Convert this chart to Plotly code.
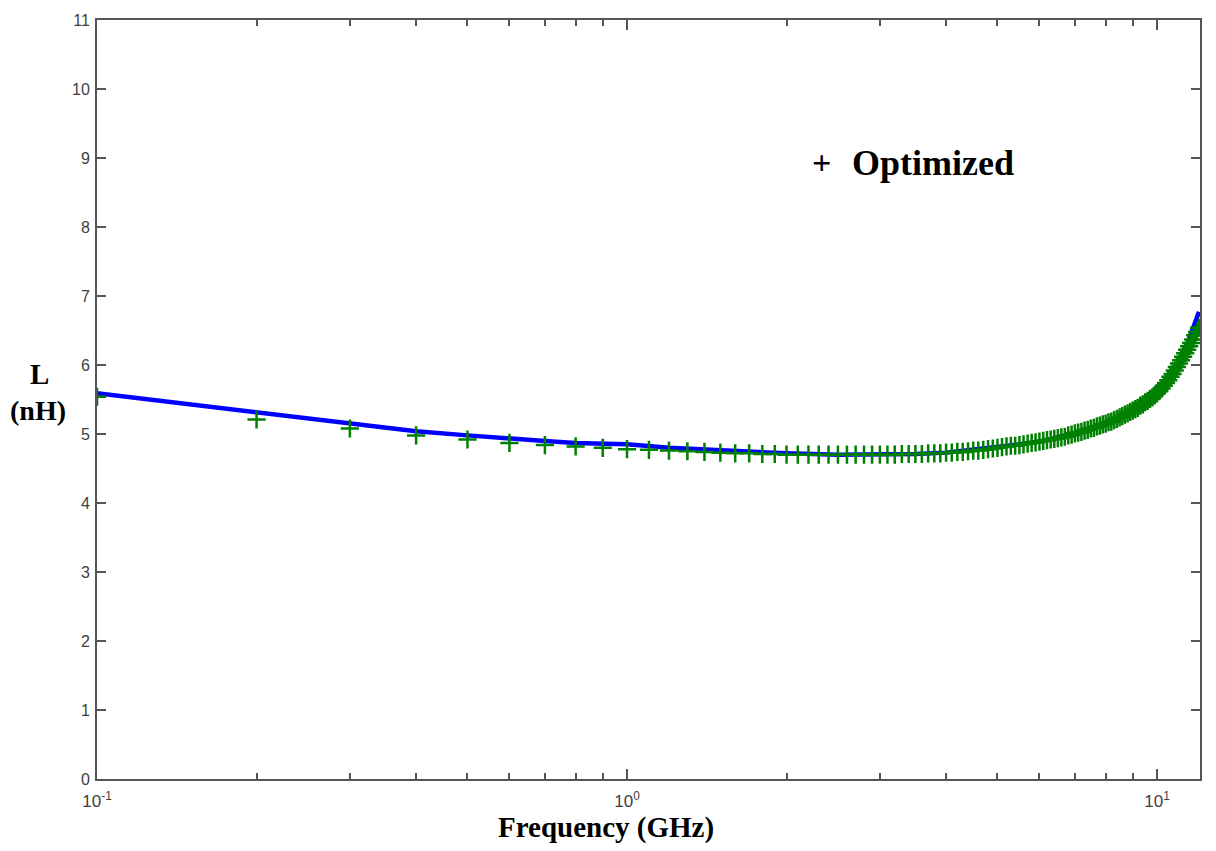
import plotly.graph_objects as go

# Optimized (markers) – sampled every 0.1 GHz
freq_opt = [0.1, 0.2, 0.3, 0.4, 0.5, 0.6, 0.7, 0.8, 0.9, 1.0,
            1.1, 1.2, 1.3, 1.4, 1.5, 1.6, 1.7, 1.8, 1.9, 2.0,
            2.1, 2.2, 2.3, 2.4, 2.5, 2.6, 2.7, 2.8, 2.9, 3.0,
            3.1, 3.2, 3.3, 3.4, 3.5, 3.6, 3.7, 3.8, 3.9, 4.0,
            4.1, 4.2, 4.3, 4.4, 4.5, 4.6, 4.7, 4.8, 4.9, 5.0,
            5.1, 5.2, 5.3, 5.4, 5.5, 5.6, 5.7, 5.8, 5.9, 6.0,
            6.1, 6.2, 6.3, 6.4, 6.5, 6.6, 6.7, 6.8, 6.9, 7.0,
            7.1, 7.2, 7.3, 7.4, 7.5, 7.6, 7.7, 7.8, 7.9, 8.0,
            8.1, 8.2, 8.3, 8.4, 8.5, 8.6, 8.7, 8.8, 8.9, 9.0,
            9.1, 9.2, 9.3, 9.4, 9.5, 9.6, 9.7, 9.8, 9.9, 10.0,
            10.1, 10.2, 10.3, 10.4, 10.5, 10.6, 10.7, 10.8, 10.9, 11.0,
            11.1, 11.2, 11.3, 11.4, 11.5, 11.6, 11.7, 11.8, 11.9, 12.0]
L_opt = [5.54, 5.21, 5.08, 4.98, 4.92, 4.87, 4.84, 4.82, 4.80, 4.78,
         4.77, 4.76, 4.75, 4.74, 4.73, 4.72, 4.72, 4.71, 4.71, 4.70,
         4.70, 4.70, 4.70, 4.70, 4.70, 4.70, 4.70, 4.70, 4.70, 4.70,
         4.70, 4.70, 4.71, 4.71, 4.71, 4.71, 4.72, 4.72, 4.72, 4.73,
         4.73, 4.74, 4.74, 4.75, 4.76, 4.76, 4.77, 4.78, 4.79, 4.80,
         4.81, 4.82, 4.83, 4.83, 4.84, 4.85, 4.86, 4.87, 4.88, 4.89,
         4.90, 4.91, 4.92, 4.93, 4.94, 4.95, 4.96, 4.98, 4.99, 5.01,
         5.02, 5.03, 5.05, 5.06, 5.08, 5.09, 5.11, 5.12, 5.14, 5.15,
         5.17, 5.18, 5.20, 5.22, 5.24, 5.26, 5.28, 5.30, 5.32, 5.34,
         5.36, 5.38, 5.41, 5.43, 5.46, 5.48, 5.51, 5.53, 5.56, 5.59,
         5.62, 5.66, 5.70, 5.74, 5.78, 5.83, 5.87, 5.92, 5.97, 6.02,
         6.07, 6.12, 6.17, 6.22, 6.27, 6.32, 6.37, 6.43, 6.48, 6.54]

# Reference curve (blue line)
freq_line = [0.1, 0.2, 0.3, 0.4, 0.5, 0.6, 0.7, 0.8, 0.9, 1.0, 1.2, 1.5,
             2.0, 2.5, 3.0, 3.5, 4.0, 4.5, 5.0, 5.5, 6.0, 6.5, 7.0, 7.5,
             8.0, 8.5, 9.0, 9.5, 10.0, 10.5, 11.0, 11.5, 12.0]
L_line = [5.59, 5.32, 5.15, 5.04, 4.98, 4.93, 4.90, 4.87, 4.86, 4.85, 4.80, 4.76,
          4.72, 4.70, 4.70, 4.71, 4.73, 4.77, 4.81, 4.85, 4.89, 4.95, 5.01, 5.08,
          5.16, 5.25, 5.35, 5.47, 5.61, 5.79, 6.04, 6.38, 6.77]

y_ticks = [0, 1, 2, 3, 4, 5, 6, 7, 8, 9, 10, 11]
x_major = [0.1, 1, 10]
x_major_text = ["10<sup>-1</sup>", "10<sup>0</sup>", "10<sup>1</sup>"]
x_minor = [0.2, 0.3, 0.4, 0.5, 0.6, 0.7, 0.8, 0.9, 2, 3, 4, 5, 6, 7, 8, 9]

AX = "#555555"

fig = go.Figure()
fig.add_trace(go.Scatter(x=freq_line, y=L_line, mode="lines",
                         line=dict(color="#0000ff", width=4.5),
                         showlegend=False, hoverinfo="skip"))
fig.add_trace(go.Scatter(x=freq_opt, y=L_opt, mode="markers",
                         marker=dict(symbol="cross-thin", size=13,
                                     line=dict(color="#008000", width=2.5),
                                     color="#008000"),
                         showlegend=False))

W, H = 1216, 851
L0, R0, T0, B0 = 97, 1200, 17, 779


def px(xp):
    return (xp - L0) / (R0 - L0)


def py(yp):
    return (B0 - yp) / (B0 - T0)


fig.update_layout(
    width=W, height=H,
    margin=dict(l=L0, r=W - R0, t=T0, b=H - B0, pad=0),
    paper_bgcolor="white", plot_bgcolor="white",
    font=dict(family="Liberation Sans, Arial, sans-serif", size=16, color="#404040"),
    xaxis=dict(type="log", range=[-1, 1.0811], showgrid=False, zeroline=False,
               showline=True, linecolor=AX, linewidth=2, mirror="ticks",
               ticks="inside", ticklen=10, tickwidth=1.5, tickcolor=AX,
               tickmode="array", tickvals=x_major, ticktext=x_major_text,
               ticklabelstandoff=6,
               minor=dict(ticks="inside", ticklen=6, tickwidth=1.5,
                          tickcolor=AX, tickmode="array", tickvals=x_minor,
                          showgrid=False),
               tickfont=dict(size=17, color="#404040")),
    yaxis=dict(range=[0, 11], showgrid=False, zeroline=False,
               showline=True, linecolor=AX, linewidth=2, mirror="ticks",
               ticks="inside", ticklen=9, tickwidth=1.5, tickcolor=AX,
               tickmode="array", tickvals=y_ticks, ticklabelstandoff=2,
               tickfont=dict(size=16, color="#404040")),
)

serif_bold = "Liberation Serif, Times New Roman, serif"
fig.add_annotation(xref="paper", yref="paper", x=px(821), y=py(160),
                   text="<b>+</b>", showarrow=False, xanchor="center", yanchor="middle",
                   font=dict(family=serif_bold, size=34, color="black"))
fig.add_annotation(xref="paper", yref="paper", x=px(850), y=py(161),
                   text="<b>Optimized</b>", showarrow=False, xanchor="left", yanchor="middle",
                   font=dict(family=serif_bold, size=36, color="black"))
fig.add_annotation(xref="paper", yref="paper", x=px(606), y=py(828),
                   text="<b>Frequency (GHz)</b>", showarrow=False, xanchor="center",
                   yanchor="middle", font=dict(family=serif_bold, size=29, color="black"))
fig.add_annotation(xref="paper", yref="paper", x=px(39), y=py(372),
                   text="<b>L</b>", showarrow=False, xanchor="center",
                   yanchor="middle", font=dict(family=serif_bold, size=29, color="black"))
fig.add_annotation(xref="paper", yref="paper", x=px(38), y=py(409),
                   text="<b>(nH)</b>", showarrow=False, xanchor="center",
                   yanchor="middle", font=dict(family=serif_bold, size=28, color="black"))

fig.write_html("out.html")
